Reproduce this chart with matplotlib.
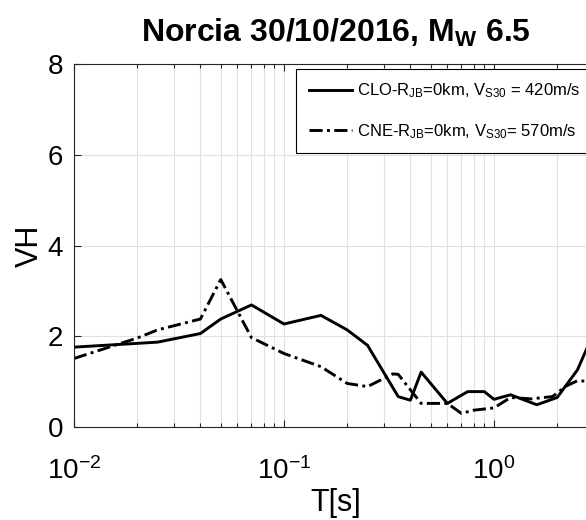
import matplotlib
matplotlib.use("Agg")
import matplotlib.pyplot as plt

plt.rcParams['font.family'] = ['Liberation Sans', 'DejaVu Sans']
plt.rcParams['mathtext.fontset'] = 'custom'
plt.rcParams['mathtext.rm'] = 'Liberation Sans'
plt.rcParams['mathtext.it'] = 'Liberation Sans'
plt.rcParams['mathtext.bf'] = 'Liberation Sans:bold'
plt.rcParams['mathtext.default'] = 'regular'

# CLO station (solid)
T_clo = [0.01, 0.025, 0.04, 0.05, 0.07, 0.1, 0.15, 0.2, 0.25, 0.35, 0.4, 0.45,
         0.6, 0.75, 0.9, 1.0, 1.2, 1.6, 2.0, 2.5, 3.0]
vh_clo = [1.76, 1.87, 2.06, 2.38, 2.69, 2.27, 2.46, 2.14, 1.80, 0.67, 0.59, 1.21,
          0.52, 0.78, 0.78, 0.61, 0.71, 0.49, 0.65, 1.26, 2.10]

# CNE station (dash-dot)
T_cne = [0.01, 0.02, 0.025, 0.04, 0.05, 0.07, 0.1, 0.15, 0.2, 0.25, 0.33, 0.35,
         0.45, 0.6, 0.7, 0.8, 1.0, 1.2, 1.5, 1.9, 2.2, 2.5, 3.0]
vh_cne = [1.51, 1.96, 2.14, 2.38, 3.25, 1.97, 1.62, 1.33, 0.96, 0.89, 1.17, 1.16,
          0.52, 0.52, 0.30, 0.37, 0.42, 0.65, 0.62, 0.67, 0.90, 1.02, 1.00]

label_clo = "CLO-R$_{JB}$=0km, V$_{S30}$ = 420m/s"
label_cne = "CNE-R$_{JB}$=0km, V$_{S30}$= 570m/s"
title = "Norcia 30/10/2016, M$_{W}$ 6.5"
yticks = [0, 2, 4, 6, 8]

W, H = 586, 520
fig = plt.figure(figsize=(W / 100, H / 100), dpi=100)
ax = fig.add_axes([74 / W, 1 - 427 / H, (598 - 74) / W, (427 - 64) / H])

ax.plot(T_clo, vh_clo, color='black', lw=2.1, ls='-', label=label_clo)
ax.plot(T_cne, vh_cne, color='black', lw=2.1, ls=(0, (4.5, 1.5, 1, 1.5)), label=label_cne)

ax.set_xscale('log')
ax.set_xlim(0.01, 3.13)
ax.set_ylim(0, 8)
ax.set_yticks(yticks)

ax.grid(True, which='both', axis='x', color='#e0e0e0', lw=0.8)
ax.grid(True, which='major', axis='y', color='#e0e0e0', lw=0.8)
ax.set_axisbelow(True)

ax.tick_params(which='both', direction='in', top=True, right=True,
               labelsize=20, colors='#262626', labelcolor='black', width=0.8)
ax.tick_params(which='major', length=5)
ax.tick_params(axis='y', which='major', pad=8)
ax.tick_params(axis='x', which='major', pad=22)
ax.tick_params(which='minor', length=3)
for s in ax.spines.values():
    s.set_color('#262626')
    s.set_linewidth(0.8)

ax.set_xlabel('T[s]', fontsize=22, labelpad=2)
ax.set_ylabel('VH', fontsize=22, labelpad=2)
ax.set_title(title, fontsize=23, fontweight='bold', pad=16)

leg = ax.legend(loc='upper left', bbox_to_anchor=(296 / W, 1 - 69 / H),
                bbox_transform=fig.transFigure, fontsize=12, frameon=True,
                fancybox=False, edgecolor='black', framealpha=1,
                handlelength=2.6, handletextpad=0.3, labelspacing=1.3,
                borderpad=0.75, borderaxespad=0)
leg.get_frame().set_linewidth(0.8)

fig.savefig('out.png', dpi=100)
